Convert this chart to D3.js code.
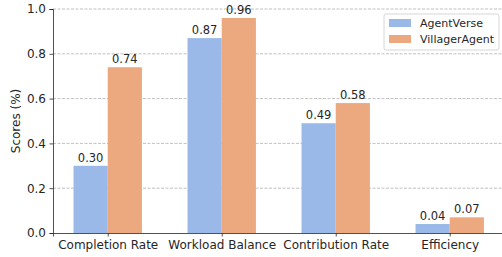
<!DOCTYPE html>
<html>
<head>
<meta charset="utf-8">
<script src="https://cdn.jsdelivr.net/npm/d3@7"></script>
<style>
  body { margin: 0; background: #fff; }
  svg { display: block; }
  svg text { font-family: "DejaVu Sans", sans-serif; }
</style>
</head>
<body>
<div id="chart"></div>
<script>
var categories = ["Completion Rate", "Workload Balance", "Contribution Rate", "Efficiency"];
var seriesNames = ["AgentVerse", "VillagerAgent"];
var agentVerse = [0.30, 0.87, 0.49, 0.04];
var villagerAgent = [0.74, 0.96, 0.58, 0.07];
var yTicks = [0.0, 0.2, 0.4, 0.6, 0.8, 1.0];

var colors = ["#9ab9e8", "#eca87f"];
var ink = "#262626";

var width = 502, height = 257;
var margin = {left: 53, top: 9, bottom: 24};

var svg = d3.select("#chart").append("svg")
    .attr("width", width)
    .attr("height", height);

// index based x scale, like matplotlib with 0.05 margins
var x = d3.scaleLinear()
    .domain([-0.48, 3.48])
    .range([margin.left, margin.left + 3.96 * 114]);

var y = d3.scaleLinear()
    .domain([0, 1])
    .range([height - margin.bottom, margin.top]);

var barW = 0.3;

// grid
svg.append("g")
  .selectAll("line")
  .data(yTicks.slice(1))
  .enter().append("line")
    .attr("x1", margin.left)
    .attr("x2", width)
    .attr("y1", d => y(d))
    .attr("y2", d => y(d))
    .attr("stroke", "#b0b0b0")
    .attr("stroke-width", 0.8)
    .attr("stroke-dasharray", "3,1.5");

var data = [agentVerse, villagerAgent];

data.forEach(function(vals, s) {
  var g = svg.append("g");
  g.selectAll("rect")
    .data(vals)
    .enter().append("rect")
      .attr("x", (d, i) => x(i + (s - 1) * barW))
      .attr("width", x(barW) - x(0))
      .attr("y", d => y(d))
      .attr("height", d => y(0) - y(d))
      .attr("fill", colors[s]);
  g.selectAll("text")
    .data(vals)
    .enter().append("text")
      .attr("x", (d, i) => x(i + (s - 0.5) * barW))
      .attr("y", d => y(d) - 4)
      .attr("text-anchor", "middle")
      .attr("font-size", 11.5)
      .attr("fill", ink)
      .text(d => d.toFixed(2));
});

// y axis
var yAxis = d3.axisLeft(y)
    .tickValues(yTicks)
    .tickFormat(d3.format(".1f"))
    .tickSizeOuter(0)
    .tickSize(3.5)
    .tickPadding(3.5);
var ya = svg.append("g")
    .attr("transform", "translate(" + margin.left + ",0)")
    .call(yAxis)
    .attr("font-family", "DejaVu Sans")
    .attr("font-size", 12);
ya.selectAll("text").attr("fill", ink);
ya.selectAll("line").attr("stroke", ink).attr("stroke-width", 0.8);
ya.select(".domain").attr("stroke", ink).attr("stroke-width", 0.8);

// x axis
var xAxis = d3.axisBottom(x)
    .tickValues([0, 1, 2, 3])
    .tickFormat(i => categories[i])
    .tickSizeOuter(0)
    .tickSize(3.5)
    .tickPadding(3.5);
var xa = svg.append("g")
    .attr("transform", "translate(0," + y(0) + ")")
    .call(xAxis)
    .attr("font-family", "DejaVu Sans")
    .attr("font-size", 12);
xa.selectAll("text").attr("fill", ink);
xa.selectAll("line").attr("stroke", ink).attr("stroke-width", 0.8);
xa.select(".domain").attr("stroke", ink).attr("stroke-width", 0.8);

// y label
svg.append("text")
    .attr("transform", "translate(20," + y(0.5) + ") rotate(-90)")
    .attr("text-anchor", "middle")
    .attr("font-size", 12)
    .attr("fill", ink)
    .text("Scores (%)");

// legend
var leg = svg.append("g").attr("transform", "translate(384,14)");
leg.append("rect")
    .attr("width", 115)
    .attr("height", 36)
    .attr("rx", 2)
    .attr("fill", "#fff")
    .attr("fill-opacity", 0.8)
    .attr("stroke", "#ccc")
    .attr("stroke-width", 0.8);
seriesNames.forEach(function(name, s) {
  leg.append("rect")
      .attr("x", 5)
      .attr("y", 5 + s * 16)
      .attr("width", 22)
      .attr("height", 8)
      .attr("fill", colors[s]);
  leg.append("text")
      .attr("x", 36)
      .attr("y", 13 + s * 16)
      .attr("font-size", 11)
      .attr("fill", ink)
      .text(name);
});
</script>
</body>
</html>
